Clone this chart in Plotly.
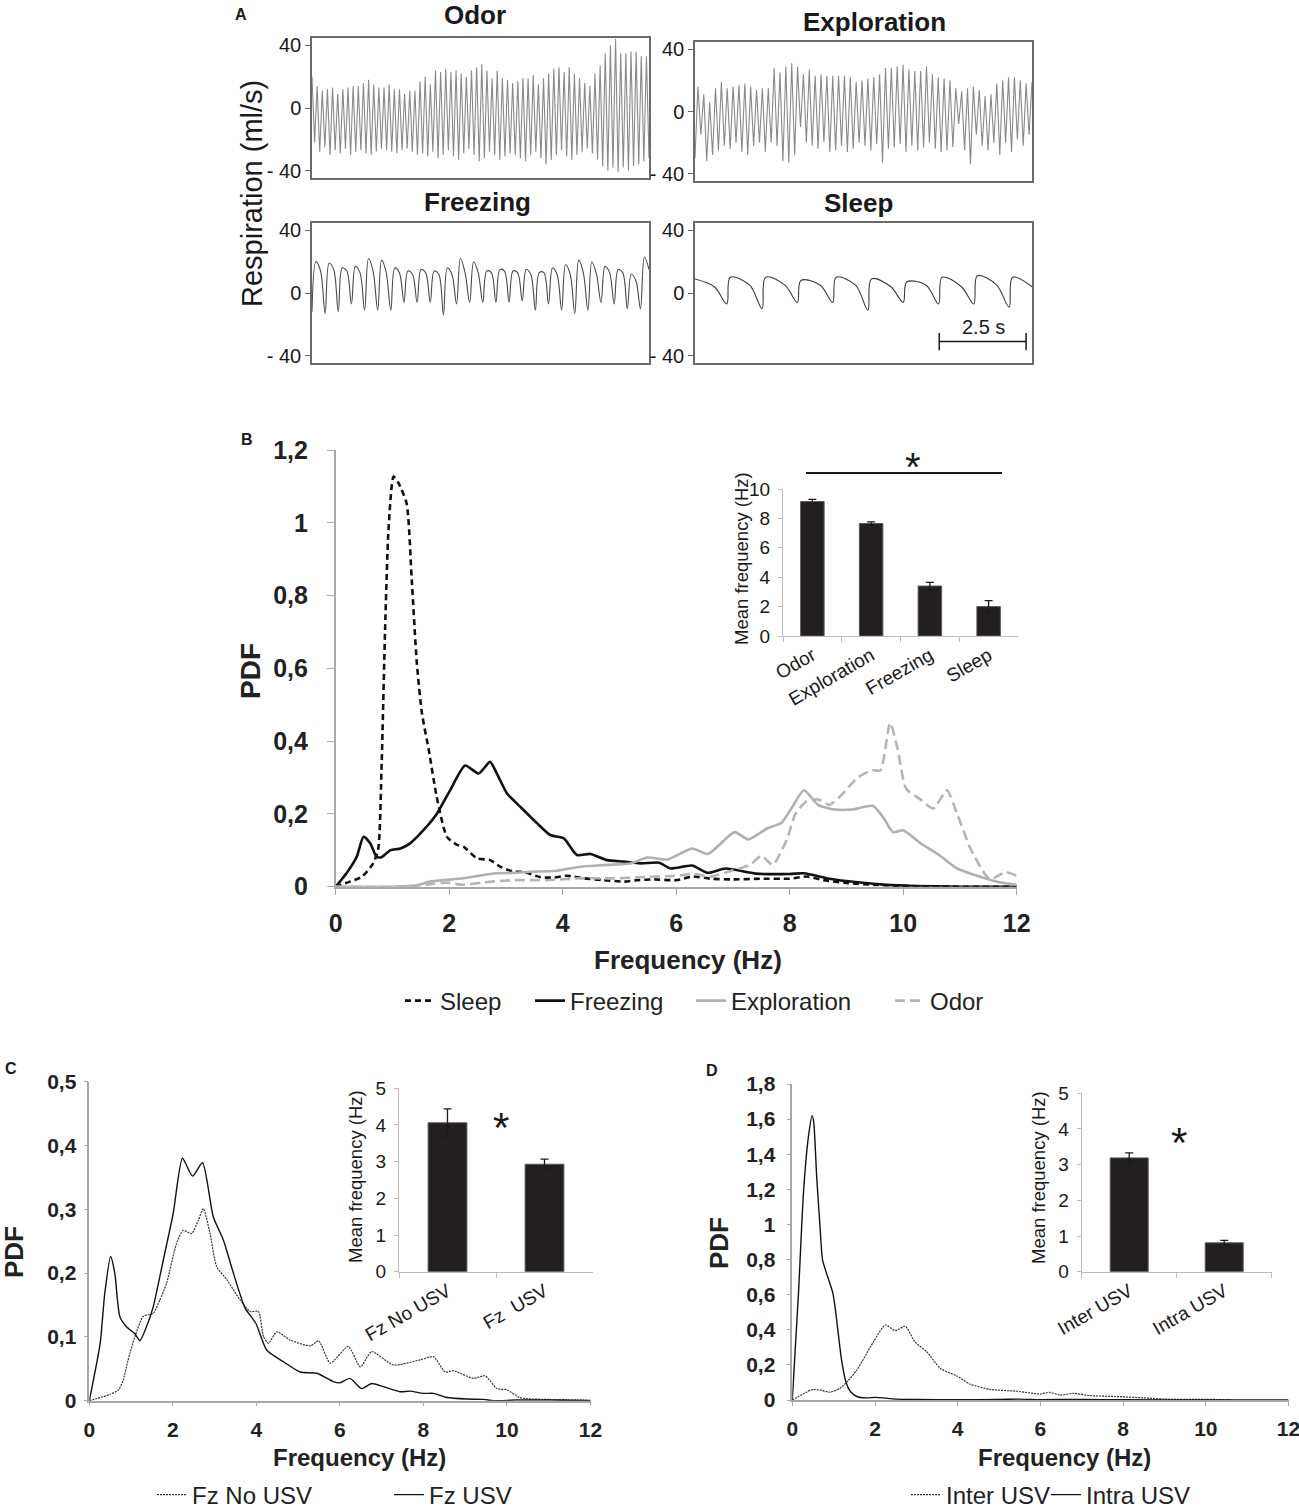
import plotly.graph_objects as go

W, H = 1299, 1512
SPAN = 9.7  # seconds shown in every respiration box (scale bar = 2.5 s)

# ---------------- A: respiration, one value per breath phase (ml/s)
odor_peaks = [20, 14, 11, 12, 13, 9, 12, 13, 14, 14,
              16, 18, 15, 13, 13, 15, 12, 12, 9, 11,
              11, 17, 20, 15, 24, 23, 25, 23, 24, 22,
              20, 24, 26, 28, 24, 19, 24, 19, 18, 16,
              17, 19, 19, 21, 15, 19, 22, 25, 26, 23,
              26, 22, 19, 16, 14, 22, 27, 35, 40, 44,
              35, 35, 36, 36, 33, 33]
odor_troughs = [-22, -28, -25, -30, -27, -29, -26, -30, -28, -27,
                -29, -30, -28, -26, -27, -28, -29, -27, -26, -28,
                -30, -29, -31, -28, -32, -30, -27, -31, -33, -29,
                -26, -30, -34, -32, -28, -30, -33, -31, -29, -30,
                -32, -34, -30, -28, -32, -36, -33, -30, -27, -31,
                -33, -30, -28, -26, -29, -33, -37, -40, -38, -41,
                -38, -40, -37, -36, -34, -32]

expl_troughs = [-30, -15, -32, -28, -25, -22, -24, -20, -26, -28,
                -22, -20, -26, -20, -22, -32, -33, -28, -10, -20,
                -22, -24, -20, -26, -25, -22, -26, -24, -20, -22,
                -25, -21, -33, -24, -23, -21, -26, -22, -25, -23,
                -20, -24, -26, -25, -23, -8, -25, -34, -15, -22,
                -25, -20, -28, -20, -26, -18, -22, -15]
expl_peaks = [16, 11, 6, 15, 19, 15, 16, 17, 18, 16,
              14, 15, 15, 28, 25, 29, 31, 29, 24, 27,
              23, 24, 23, 23, 23, 23, 22, 19, 20, 21,
              22, 24, 28, 28, 29, 30, 27, 26, 26, 29,
              24, 22, 21, 20, 15, 13, 15, 16, 14, 10,
              11, 18, 20, 22, 22, 20, 18, 19]

frz_troughs = [-12, -13, -12, -7, -11, -11, -11, -6, -6, -6,
               -14, -7, -6, -6, -6, -6, -5, -11, -7, -11,
               -13, -11, -6, -7, -10, -10]
frz_peaks = [20, 19, 16, 17, 22, 21, 16, 14, 15, 14,
             16, 22, 20, 14, 15, 14, 15, 13, 16, 18,
             21, 20, 17, 15, 12, 23]
frz_plateau = [14, 15, 14, 13, 14, 13, 13, 12, 13, 12,
               12, 13, 13, 13, 14, 13, 12, 13, 12, 12,
               13, 12, 13, 13, 8, 15]

sleep_peaks = [9, 10, 10, 8, 10, 9, 7, 10, 11, 10]
sleep_plateau = [4, 5, 5, 5, 5, 4, 5, 4, 5, 4]
sleep_troughs = [-7, -10, -6, -6, -11, -6, -7, -7, -9]

# ---------------- B: PDF of respiratory frequency per state
b_sleep_f = [0, 0.25, 0.46, 0.66, 0.75, 0.81, 0.87, 0.93, 1.02, 1.11, 1.25, 1.34, 1.43,
             1.52, 1.64, 1.78, 1.96, 2.14, 2.25, 2.49, 2.72, 2.9, 3.14, 3.31, 3.61, 3.84,
             4.08, 4.37, 4.72, 5.08, 5.31, 5.6, 6.0, 6.3, 6.6, 7.0, 7.5, 8.0, 8.3, 8.6,
             9.0, 9.5, 10.0, 10.5, 11.0, 12.0]
b_sleep_pdf = [0, 0.014, 0.027, 0.064, 0.105, 0.339, 0.705, 0.98, 1.127, 1.108, 1.053,
               0.843, 0.614, 0.476, 0.376, 0.247, 0.137, 0.115, 0.11, 0.078, 0.073, 0.055,
               0.041, 0.041, 0.026, 0.025, 0.03, 0.023, 0.018, 0.014, 0.018, 0.02, 0.018,
               0.028, 0.022, 0.02, 0.022, 0.022, 0.028, 0.018, 0.01, 0.005, 0.002, 0.001,
               0, 0]
b_frz_f = [0, 0.19, 0.37, 0.49, 0.61, 0.72, 0.81, 0.96, 1.14, 1.31, 1.55, 1.78, 2.02,
           2.28, 2.52, 2.72, 2.84, 3.02, 3.25, 3.55, 3.78, 4.02, 4.25, 4.49, 4.78, 5.08,
           5.37, 5.7, 5.9, 6.28, 6.55, 6.87, 7.4, 8.0, 8.25, 8.7, 9.2, 9.7, 10.2, 11.0, 12.0]
b_frz_pdf = [0, 0.037, 0.082, 0.137, 0.119, 0.082, 0.081, 0.1, 0.105, 0.119, 0.156, 0.2,
             0.266, 0.333, 0.311, 0.343, 0.311, 0.256, 0.22, 0.174, 0.142, 0.133, 0.087,
             0.09, 0.073, 0.069, 0.064, 0.066, 0.05, 0.058, 0.038, 0.05, 0.036, 0.035,
             0.037, 0.022, 0.012, 0.005, 0.002, 0, 0]
b_expl_f = [0, 1.0, 1.4, 1.66, 1.9, 2.25, 2.6, 2.84, 3.14, 3.43, 3.9, 4.31, 4.78, 5.19,
            5.49, 5.85, 6.28, 6.56, 7.03, 7.27, 7.6, 7.85, 8.05, 8.25, 8.5, 8.8, 9.1, 9.47,
            9.65, 9.82, 10.0, 10.3, 10.65, 10.95, 11.3, 11.7, 12.0]
b_expl_pdf = [0, 0, 0.003, 0.014, 0.018, 0.023, 0.032, 0.037, 0.038, 0.041, 0.044, 0.055,
              0.06, 0.064, 0.08, 0.075, 0.105, 0.09, 0.15, 0.13, 0.16, 0.175, 0.22, 0.265,
              0.225, 0.212, 0.212, 0.222, 0.19, 0.15, 0.155, 0.12, 0.085, 0.05, 0.03,
              0.012, 0.005]
b_odor_f = [0, 1.4, 1.66, 1.96, 2.25, 2.6, 3.14, 3.72, 4.31, 4.9, 5.49, 6.0, 6.3, 6.6,
            7.0, 7.3, 7.5, 7.7, 7.95, 8.1, 8.3, 8.5, 8.7, 8.9, 9.2, 9.45, 9.6, 9.77, 9.9,
            10.05, 10.3, 10.53, 10.77, 10.95, 11.2, 11.53, 11.8, 12.0]
b_odor_pdf = [0, 0, 0.007, 0.011, 0.005, 0.012, 0.018, 0.018, 0.023, 0.023, 0.027, 0.03,
              0.035, 0.028, 0.045, 0.06, 0.085, 0.06, 0.13, 0.2, 0.235, 0.24, 0.225, 0.25,
              0.3, 0.32, 0.32, 0.45, 0.38, 0.27, 0.24, 0.215, 0.265, 0.2, 0.1, 0.02, 0.04,
              0.03]

b_states = ["Odor", "Exploration", "Freezing", "Sleep"]
b_mean = [9.15, 7.65, 3.4, 2.0]
b_sem = [0.15, 0.12, 0.25, 0.4]

# ---------------- C: freezing with / without USV
c_nousv_f = [0, 0.5, 0.7, 0.81, 0.93, 1.09, 1.29, 1.53, 1.69, 1.85, 2.09, 2.25, 2.45,
             2.61, 2.73, 2.89, 3.05, 3.29, 3.61, 3.85, 4.05, 4.17, 4.29, 4.49, 4.81, 5.29,
             5.49, 5.77, 6.2, 6.49, 6.76, 7.28, 7.92, 8.24, 8.52, 8.72, 9.2, 9.48, 9.76,
             10.0, 10.3, 10.5, 11.0, 12.0]
c_nousv_pdf = [0, 0.01, 0.017, 0.032, 0.064, 0.1, 0.132, 0.137, 0.158, 0.184, 0.247,
               0.267, 0.262, 0.283, 0.301, 0.262, 0.21, 0.19, 0.158, 0.14, 0.14, 0.1, 0.09,
               0.108, 0.095, 0.086, 0.094, 0.059, 0.085, 0.053, 0.077, 0.056, 0.064, 0.069,
               0.045, 0.047, 0.035, 0.039, 0.019, 0.017, 0.005, 0.003, 0.002, 0.001]
c_usv_f = [0, 0.26, 0.37, 0.51, 0.61, 0.73, 0.89, 1.09, 1.21, 1.37, 1.53, 1.77, 2.01,
           2.23, 2.47, 2.71, 2.97, 3.21, 3.45, 3.73, 3.99, 4.25, 4.65, 5.05, 5.45, 5.84,
           6.0, 6.24, 6.52, 6.76, 7.04, 7.44, 7.68, 8.0, 8.24, 8.56, 9.04, 9.44, 9.68,
           10.2, 11.0, 12.0]
c_usv_pdf = [0, 0.09, 0.168, 0.226, 0.2, 0.132, 0.116, 0.105, 0.094, 0.116, 0.147, 0.22,
             0.294, 0.38, 0.352, 0.373, 0.288, 0.252, 0.2, 0.145, 0.121, 0.079, 0.061,
             0.045, 0.043, 0.03, 0.028, 0.035, 0.019, 0.027, 0.022, 0.014, 0.015, 0.0115,
             0.0115, 0.005, 0.0026, 0.002, 0.0, 0.001, 0.001, 0.0]

c_groups = ["Fz No USV", "Fz  USV"]
c_mean = [4.06, 2.93]
c_sem = [0.38, 0.14]

# ---------------- D: between / during USV
d_inter_f = [0, 0.43, 0.5, 0.7, 0.91, 1.15, 1.35, 1.56, 1.96, 2.25, 2.49, 2.73, 2.97,
             3.25, 3.58, 3.98, 4.3, 4.79, 5.43, 6.0, 6.22, 6.48, 6.8, 7.2, 7.8, 8.5, 9.0,
             9.5, 10.0, 10.4, 10.6]
d_inter_pdf = [0, 0.055, 0.06, 0.055, 0.045, 0.066, 0.11, 0.17, 0.33, 0.427, 0.395,
               0.42, 0.33, 0.275, 0.18, 0.137, 0.09, 0.06, 0.05, 0.034, 0.044, 0.028,
               0.038, 0.025, 0.02, 0.012, 0.005, 0.003, 0.004, 0.002, 0]
d_intra_f = [0, 0.15, 0.27, 0.39, 0.48, 0.52, 0.59, 0.67, 0.73, 0.83, 0.98, 1.05, 1.19,
             1.3, 1.4, 1.56, 1.8, 2.0, 2.2, 2.5, 3.0, 4.0, 5.0, 5.5, 6.0, 7.0, 8.0, 10.0,
             12.0]
d_intra_pdf = [0, 0.61, 1.18, 1.5, 1.62, 1.58, 1.27, 0.99, 0.8, 0.72, 0.61, 0.5, 0.23,
               0.1, 0.05, 0.02, 0.012, 0.015, 0.012, 0.005, 0.003, 0.002, 0.003, 0.005,
               0.002, 0.003, 0.001, 0.0, 0.0]

d_groups = ["Inter USV", "Intra USV"]
d_mean = [3.19, 0.81]
d_sem = [0.14, 0.07]

SANS = "Liberation Sans, Arial, sans-serif"
AXIS_GREY = "#a8a8a8"
BOX_GREY = "#6a6a6a"
INK = "#1a1a1a"


def px(x):
    return x / W


def py(y):
    return 1 - y / H


def ax_names(n):
    # plotly calls the first pair x / y, the rest x2 / y2 ...
    s = "" if n == 1 else str(n)
    return "xaxis" + s, "yaxis" + s, "x" + s, "y" + s


def breaths(cols, phases):
    """Lay the per-breath values out in time; phases = where in a breath each list sits."""
    pos, vals = [], []
    for i in range(len(cols[0])):
        for col, ph in zip(cols, phases):
            if i < len(col):
                pos.append(i + ph)
                vals.append(col[i])
    return [p / pos[-1] * SPAN for p in pos], vals


fig = go.Figure()
layout = {}
annotations = []
shapes = []

# ---------------- panel A
resp = [
    (1, "Odor", breaths([odor_peaks, odor_troughs], [0, 0.5]), (312, 649, 38, 178), "#8a8a8a", "linear", (475, 15)),
    (2, "Exploration", breaths([expl_troughs, expl_peaks], [0, 0.5]), (695, 1032, 42, 181), "#8a8a8a", "linear", (874, 22)),
    (3, "Freezing", breaths([frz_troughs, frz_peaks, frz_plateau], [0, 0.3, 0.65]), (312, 649, 223, 363), "#4a4a4a", "spline", (477, 202)),
    (4, "Sleep", breaths([sleep_peaks, sleep_plateau, sleep_troughs], [0, 0.55, 0.9]), (695, 1032, 223, 363), "#3a3a3a", "spline", (858, 203)),
]
for n, name, (t, v), (x0, x1, y0, y1), col, shape, (tx, ty) in resp:
    xk, yk, xr, yr = ax_names(n)
    fig.add_trace(go.Scatter(x=t, y=v, mode="lines", xaxis=xr, yaxis=yr, showlegend=False,
                             line=dict(color=col, width=1.1, shape=shape)))
    layout[xk] = dict(domain=[px(x0), px(x1)], range=[0, SPAN], anchor=yr, showline=True,
                      mirror=True, linecolor=BOX_GREY, linewidth=1.5, showticklabels=False,
                      ticks="", showgrid=False, zeroline=False)
    layout[yk] = dict(domain=[py(y1), py(y0)], range=[-44.7, 44.7], anchor=xr, showline=True,
                      mirror=True, linecolor=BOX_GREY, linewidth=1.5, tickvals=[-40, 0, 40],
                      ticktext=["- 40", "0", "40"], ticks="outside", ticklen=5,
                      tickcolor=BOX_GREY, showgrid=False, zeroline=False,
                      tickfont=dict(family=SANS, size=20, color=INK))
    annotations.append(dict(x=px(tx), y=py(ty), text=name,
                            font=dict(family=SANS, size=26, color=INK, weight="bold")))

annotations += [
    dict(x=px(241), y=py(15), text="A", font=dict(family=SANS, size=16, color=INK, weight="bold")),
    dict(x=px(252), y=py(194), text="Respiration (ml/s)", textangle=-90,
         font=dict(family=SANS, size=29, color=INK)),
    dict(x=8.29, y=-22, xref="x4", yref="y4", text="2.5 s", font=dict(family=SANS, size=20, color=INK)),
]
# 2.5 s scale bar in the sleep box
for sx0, sy0, sx1, sy1 in [(7.03, -31, 9.53, -31), (7.03, -25.5, 7.03, -36.5), (9.53, -25.5, 9.53, -36.5)]:
    shapes.append(dict(type="line", xref="x4", yref="y4", x0=sx0, y0=sy0, x1=sx1, y1=sy1,
                       line=dict(color=INK, width=1.5)))


def pdf_axes(n, dom_x, dom_y, yrange, ytick, ytext, font, ticklen, ystand, xstand):
    xk, yk, xr, yr = ax_names(n)
    layout[xk] = dict(domain=[px(dom_x[0]), px(dom_x[1])], range=[0, 12], anchor=yr,
                      tickvals=list(range(0, 13, 2)), showline=True, linecolor=AXIS_GREY,
                      linewidth=1.5, ticks="outside", ticklen=ticklen, tickcolor=AXIS_GREY,
                      ticklabelstandoff=xstand, ticklabeloverflow="allow", tickfont=font,
                      showgrid=False, zeroline=False)
    layout[yk] = dict(domain=[py(dom_y[1]), py(dom_y[0])], range=yrange, anchor=xr,
                      tickvals=ytick, ticktext=ytext, showline=True, linecolor=AXIS_GREY,
                      linewidth=1.5, ticks="outside", ticklen=ticklen, tickcolor=AXIS_GREY,
                      ticklabelstandoff=ystand, tickfont=font, showgrid=False, zeroline=False)
    return xr, yr


def bar_inset(n, dom_x, dom_y, cats, means, sems, tsize, ymax, ystep):
    xk, yk, xr, yr = ax_names(n)
    fig.add_trace(go.Bar(x=cats, y=means, xaxis=xr, yaxis=yr, showlegend=False, width=0.4,
                         marker=dict(color="#231f20", line=dict(color="#5a5a5a", width=1)),
                         error_y=dict(type="data", array=sems, color=INK, thickness=1.3, width=4)))
    layout[xk] = dict(domain=[px(dom_x[0]), px(dom_x[1])], anchor=yr, type="category",
                      showline=True, linecolor="#bdbdbd", linewidth=1.2, ticks="outside",
                      tickson="boundaries", ticklen=5, tickcolor="#bdbdbd", tickangle=-30,
                      tickfont=dict(family=SANS, size=tsize, color=INK), showgrid=False)
    layout[yk] = dict(domain=[py(dom_y[1]), py(dom_y[0])], range=[0, ymax], anchor=xr,
                      dtick=ystep, showline=True, linecolor="#bdbdbd", linewidth=1.2,
                      ticks="outside", ticklen=4, tickcolor="#bdbdbd", ticklabelstandoff=4,
                      showgrid=False, zeroline=False, tickfont=dict(family=SANS, size=19, color=INK))


def comma(vals):
    return [("%g" % v).replace(".", ",") for v in vals]


# ---------------- panel B
bfont = dict(family=SANS, size=25, color="#222", weight="bold")
b_y = [0, 0.2, 0.4, 0.6, 0.8, 1.0, 1.2]
xr, yr = pdf_axes(5, (335.7, 1016.7), (450, 886.7), [0, 1.2], b_y, comma(b_y), bfont, 7, 14, 7)
for f, p, name, col, dash, leg in [
    (b_sleep_f, b_sleep_pdf, "Sleep", "#111111", "6px,4px", "legend"),
    (b_frz_f, b_frz_pdf, "Freezing", "#111111", "solid", "legend2"),
    (b_expl_f, b_expl_pdf, "Exploration", "#b0b0b0", "solid", "legend3"),
    (b_odor_f, b_odor_pdf, "Odor", "#b5b5b5", "10px,5px", "legend4"),
]:
    fig.add_trace(go.Scatter(x=f, y=p, name=name, mode="lines", xaxis=xr, yaxis=yr, legend=leg,
                             line=dict(color=col, width=2.6, dash=dash, shape="spline", smoothing=0.6)))

bar_inset(6, (783, 1018), (489, 636), b_states, b_mean, b_sem, 19, 10, 2)

annotations += [
    dict(x=px(247), y=py(440), text="B", font=dict(family=SANS, size=16, color=INK, weight="bold")),
    dict(x=px(250), y=py(671), text="PDF", textangle=-90, font=dict(family=SANS, size=28, color="#222", weight="bold")),
    dict(x=px(688), y=py(960), text="Frequency (Hz)", font=dict(family=SANS, size=26, color="#222", weight="bold")),
    dict(x=px(741), y=py(558), text="Mean frequency (Hz)", textangle=-90, font=dict(family=SANS, size=18.5, color=INK)),
    dict(x=px(913), y=py(467), text="*", font=dict(family=SANS, size=40, color=INK)),
]
shapes.append(dict(type="line", xref="paper", yref="paper", x0=px(806), x1=px(1002),
                   y0=py(473), y1=py(473), line=dict(color=INK, width=2)))

# ---------------- panel C
cfont = dict(family=SANS, size=21, color="#222", weight="bold")
c_y = [0, 0.1, 0.2, 0.3, 0.4, 0.5]
xr, yr = pdf_axes(7, (89.3, 590.5), (1081.7, 1400.7), [0, 0.5], c_y, comma(c_y), cfont, 4, 3, 5)
fig.add_trace(go.Scatter(x=c_nousv_f, y=c_nousv_pdf, name="Fz No USV", mode="lines", xaxis=xr, yaxis=yr,
                         legend="legend5", line=dict(color="#333", width=1.2, dash="2px,1px", shape="spline", smoothing=0.6)))
fig.add_trace(go.Scatter(x=c_usv_f, y=c_usv_pdf, name="Fz USV", mode="lines", xaxis=xr, yaxis=yr,
                         legend="legend6", line=dict(color="#111", width=1.4, shape="spline", smoothing=0.6)))
bar_inset(8, (399, 593), (1088.3, 1271.7), c_groups, c_mean, c_sem, 19, 5, 1)
annotations += [
    dict(x=px(11), y=py(1068), text="C", font=dict(family=SANS, size=16, color=INK, weight="bold")),
    dict(x=px(14), y=py(1252), text="PDF", textangle=-90, font=dict(family=SANS, size=26, color="#222", weight="bold")),
    dict(x=px(359), y=py(1457), text="Frequency (Hz)", font=dict(family=SANS, size=24, color="#222", weight="bold")),
    dict(x=px(355), y=py(1177), text="Mean frequency (Hz)", textangle=-90, font=dict(family=SANS, size=18.5, color=INK)),
    dict(x=px(501), y=py(1127), text="*", font=dict(family=SANS, size=42, color=INK)),
]

# ---------------- panel D
d_y = [0, 0.2, 0.4, 0.6, 0.8, 1.0, 1.2, 1.4, 1.6, 1.8]
xr, yr = pdf_axes(9, (792.3, 1288.5), (1084, 1400), [0, 1.8], d_y, comma(d_y), cfont, 4, 7, 5)
fig.add_trace(go.Scatter(x=d_inter_f, y=d_inter_pdf, name="Inter USV", mode="lines", xaxis=xr, yaxis=yr,
                         legend="legend7", line=dict(color="#333", width=1.2, dash="2px,1px", shape="spline", smoothing=0.6)))
fig.add_trace(go.Scatter(x=d_intra_f, y=d_intra_pdf, name="Intra USV", mode="lines", xaxis=xr, yaxis=yr,
                         legend="legend8", line=dict(color="#111", width=1.4, shape="spline", smoothing=0.6)))
bar_inset(10, (1081.7, 1271.7), (1093.3, 1271.7), d_groups, d_mean, d_sem, 19, 5, 1)
annotations += [
    dict(x=px(712), y=py(1070), text="D", font=dict(family=SANS, size=16, color=INK, weight="bold")),
    dict(x=px(719), y=py(1243), text="PDF", textangle=-90, font=dict(family=SANS, size=26, color="#222", weight="bold")),
    dict(x=px(1064), y=py(1457), text="Frequency (Hz)", font=dict(family=SANS, size=24, color="#222", weight="bold")),
    dict(x=px(1038), y=py(1178), text="Mean frequency (Hz)", textangle=-90, font=dict(family=SANS, size=18.5, color=INK)),
    dict(x=px(1179), y=py(1142), text="*", font=dict(family=SANS, size=42, color=INK)),
]

for a in annotations:
    a.setdefault("xref", "paper")
    a.setdefault("yref", "paper")
    a["xanchor"] = "center"
    a["yanchor"] = "middle"
    a["showarrow"] = False

# legend entries sit at their own places, one legend per entry
for key, x, y, size in [("legend", 400, 1001, 24), ("legend2", 530, 1001, 24),
                        ("legend3", 691, 1001, 24), ("legend4", 890, 1001, 24),
                        ("legend5", 152, 1495, 24), ("legend6", 389, 1495, 24),
                        ("legend7", 906, 1495, 24), ("legend8", 1046, 1495, 24)]:
    layout[key] = dict(x=px(x), y=py(y), xanchor="left", yanchor="middle", orientation="h",
                       bgcolor="rgba(0,0,0,0)", borderwidth=0, itemwidth=30,
                       font=dict(family=SANS, size=size, color="#222"))

fig.update_layout(width=W, height=H, autosize=False,
                  margin=dict(l=0, r=0, t=0, b=0, autoexpand=False),
                  paper_bgcolor="white", plot_bgcolor="white", bargap=0.6,
                  annotations=annotations, shapes=shapes, **layout)
# the page body keeps its default 8px margin otherwise, which shifts the whole figure
fig.write_html("out.html", config={"displayModeBar": False},
               post_script="document.body.style.margin = '0';")
